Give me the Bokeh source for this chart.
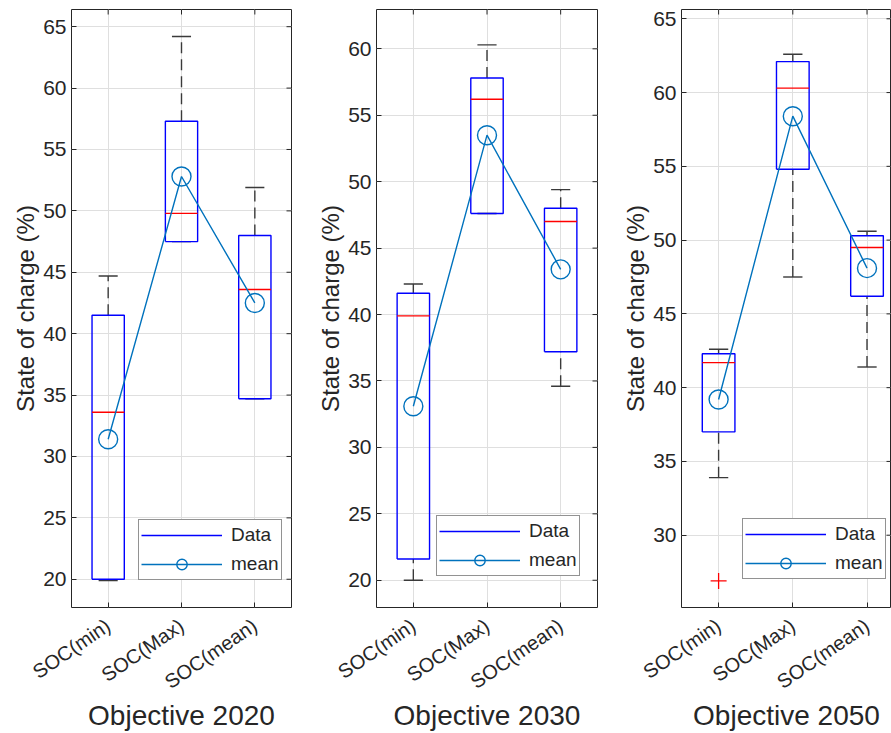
import math
from bokeh.plotting import figure
from bokeh.layouts import row
from bokeh.models import Range1d, FixedTicker, Legend, LegendItem
from bokeh.embed import file_html
from bokeh.resources import INLINE

# ---------------- data ----------------
categories = ["SOC(min)", "SOC(Max)", "SOC(mean)"]
positions = [1, 2, 3]
titles = ["Objective 2020", "Objective 2030", "Objective 2050"]

# Objective 2020
low_2020 = [19.9, 47.5, 34.7]
q1_2020 = [20.0, 47.5, 34.7]
med_2020 = [33.6, 49.8, 43.6]
q3_2020 = [41.5, 57.3, 48.0]
high_2020 = [44.7, 64.2, 51.9]
mean_2020 = [31.4, 52.8, 42.5]
outx_2020 = []
outy_2020 = []
yticks_2020 = [20, 25, 30, 35, 40, 45, 50, 55, 60, 65]

# Objective 2030
low_2030 = [20.0, 47.6, 34.6]
q1_2030 = [21.6, 47.6, 37.2]
med_2030 = [39.9, 56.2, 47.0]
q3_2030 = [41.6, 57.8, 48.0]
high_2030 = [42.3, 60.3, 49.4]
mean_2030 = [33.1, 53.5, 43.4]
outx_2030 = []
outy_2030 = []
yticks_2030 = [20, 25, 30, 35, 40, 45, 50, 55, 60]

# Objective 2050
low_2050 = [33.9, 47.5, 41.4]
q1_2050 = [37.0, 54.8, 46.2]
med_2050 = [41.7, 60.3, 49.5]
q3_2050 = [42.3, 62.1, 50.3]
high_2050 = [42.6, 62.6, 50.6]
mean_2050 = [39.2, 58.4, 48.1]
outx_2050 = [1]
outy_2050 = [26.9]
yticks_2050 = [30, 35, 40, 45, 50, 55, 60, 65]

# ---------------- style ----------------
FONT = "Liberation Sans"
TXT = "#262626"
BOX_C = "#0000FF"
MED_C = "#FF0000"
MEAN_C = "#0072BD"
WHISK_C = "#3a3a3a"
GRID_C = "#dfdfdf"
BW = 0.44
CW = 0.26
H = 733


def panel(title, low, q1, med, q3, high, mean, outx, outy, yticks, yr,
          width, xmax, bl, br, bt, legend_loc):
    p = figure(width=width, height=H, x_range=Range1d(0.5, xmax),
               y_range=Range1d(*yr), output_backend="svg", toolbar_location=None,
               min_border_left=bl, min_border_right=br, min_border_top=bt,
               min_border_bottom=125, background_fill_color="white",
               border_fill_color="white")
    p.outline_line_color = TXT
    p.outline_line_width = 1

    # grid
    p.xgrid.ticker = FixedTicker(ticks=positions)
    p.ygrid.ticker = FixedTicker(ticks=yticks)
    p.grid.grid_line_color = GRID_C
    p.grid.grid_line_width = 1

    # x axis
    xa = p.xaxis[0]
    xa.ticker = FixedTicker(ticks=positions)
    xa.major_label_overrides = {pos: c for pos, c in zip(positions, categories)}
    xa.major_label_orientation = 0.6
    xa.major_label_text_font = FONT
    xa.major_label_text_font_size = "20px"
    xa.major_label_text_color = TXT
    xa.major_label_standoff = 16
    xa.axis_label = title
    xa.axis_label_text_font = FONT
    xa.axis_label_text_font_size = "28px"
    xa.axis_label_text_font_style = "normal"
    xa.axis_label_text_color = TXT
    xa.axis_label_standoff = -5

    ya = p.yaxis[0]
    ya.ticker = FixedTicker(ticks=yticks)
    ya.major_label_text_font = FONT
    ya.major_label_text_font_size = "21px"
    ya.major_label_text_color = TXT
    ya.major_label_standoff = 5
    ya.axis_label = "State of charge (%)"
    ya.axis_label_text_font = FONT
    ya.axis_label_text_font_size = "24px"
    ya.axis_label_text_font_style = "normal"
    ya.axis_label_text_color = TXT
    ya.axis_label_standoff = 1

    for ax in (xa, ya):
        ax.axis_line_color = None
        ax.major_tick_in = 5
        ax.major_tick_out = 0
        ax.major_tick_line_color = TXT
        ax.minor_tick_line_color = None

    # inward ticks on the top and right edges of the box
    p.ray(x=positions, y=[yr[1]] * len(positions), length=5, length_units="screen",
          angle=-math.pi / 2, line_color=TXT, line_width=1)
    p.ray(x=[xmax] * len(yticks), y=yticks, length=5, length_units="screen",
          angle=math.pi, line_color=TXT, line_width=1)

    # whiskers (dashed)
    p.segment(x0=positions, y0=q3, x1=positions, y1=high, line_color=WHISK_C,
              line_width=1.4, line_dash="11 6")
    p.segment(x0=positions, y0=low, x1=positions, y1=q1, line_color=WHISK_C,
              line_width=1.4, line_dash="11 6")
    # caps
    p.segment(x0=[x - CW / 2 for x in positions], y0=high,
              x1=[x + CW / 2 for x in positions], y1=high, line_color=WHISK_C, line_width=1.4)
    p.segment(x0=[x - CW / 2 for x in positions], y0=low,
              x1=[x + CW / 2 for x in positions], y1=low, line_color=WHISK_C, line_width=1.4)
    # boxes
    bxs = [[x - BW / 2, x + BW / 2, x + BW / 2, x - BW / 2, x - BW / 2] for x in positions]
    bys = [[a, a, b, b, a] for a, b in zip(q1, q3)]
    box_r = p.multi_line(xs=bxs, ys=bys, line_color=BOX_C, line_width=1.4)
    # medians
    p.segment(x0=[x - BW / 2 for x in positions], y0=med,
              x1=[x + BW / 2 for x in positions], y1=med, line_color=MED_C, line_width=1.4)
    # outliers
    if outx:
        p.scatter(x=outx, y=outy, marker="cross", size=16, line_color=MED_C,
                  line_width=1.3)
    # mean
    ml = p.line(x=positions, y=mean, line_color=MEAN_C, line_width=1.4)
    ms = p.scatter(x=positions, y=mean, marker="circle", size=19, fill_color=None,
                   line_color=MEAN_C, line_width=1.4)

    leg = Legend(items=[LegendItem(label="Data", renderers=[box_r]),
                        LegendItem(label="mean", renderers=[ml, ms])],
                 location=legend_loc, margin=0, padding=2, spacing=3,
                 glyph_width=81, glyph_height=26, label_height=26,
                 label_standoff=9, label_text_font=FONT,
                 label_text_font_size="19px", label_text_color=TXT,
                 border_line_color=TXT, border_line_width=1,
                 background_fill_color="white", background_fill_alpha=1)
    p.add_layout(leg)
    return p


p1 = panel(titles[0], low_2020, q1_2020, med_2020, q3_2020, high_2020, mean_2020,
           outx_2020, outy_2020, yticks_2020, (17.7, 66.4), 313, 3.5, 71, 22, 9, (67, 27))
p2 = panel(titles[1], low_2030, q1_2030, med_2030, q3_2030, high_2030, mean_2030,
           outx_2030, outy_2030, yticks_2030, (17.95, 62.96), 305, 3.5, 63, 21, 8, (60, 31))
p3 = panel(titles[2], low_2050, q1_2050, med_2050, q3_2050, high_2050, mean_2050,
           outx_2050, outy_2050, yticks_2050, (25.1, 65.63), 273, 3.33, 63, 0, 7, (61, 28))

layout = row(p1, p2, p3)
open("out.html", "w").write(file_html(layout, INLINE))
